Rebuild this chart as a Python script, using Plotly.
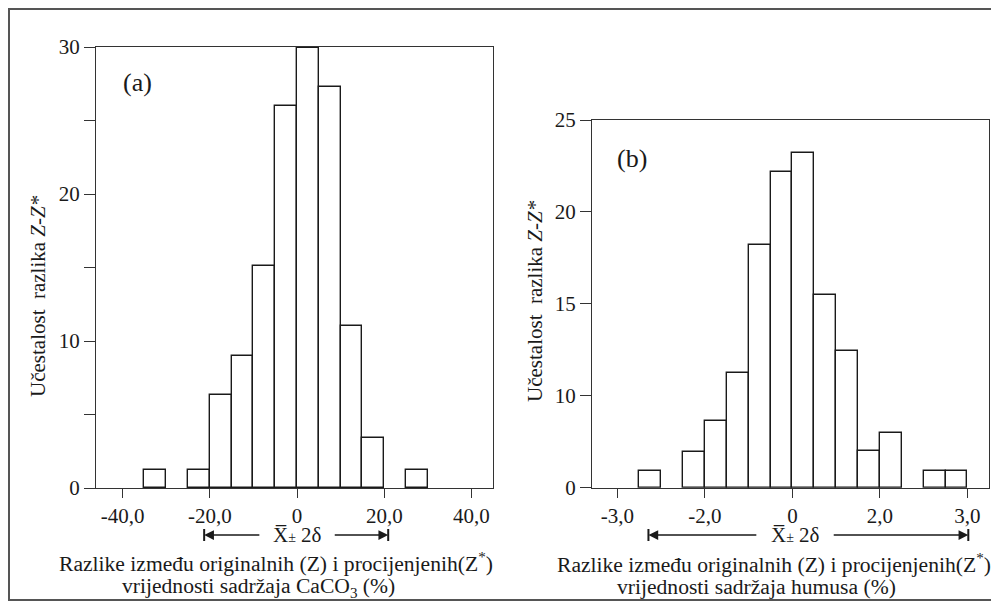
import plotly.graph_objects as go

# ---- data (a): CaCO3 differences, bin width 5 ----
a_bin_centers = [-32.5, -22.5, -17.5, -12.5, -7.5, -2.5, 2.5, 7.5, 12.5, 17.5, 27.5]
a_counts = [1.2, 1.2, 6.3, 9.0, 15.1, 26.0, 29.95, 27.3, 11.0, 3.4, 1.2]
a_bin_width = 5
a_xticks = [-40, -20, 0, 20, 40]
a_xticktext = ["-40,0", "-20,0", "0", "20,0", "40,0"]
a_yticks = [0, 5, 10, 15, 20, 25, 30]
a_yticktext = ["0", " ", "10", " ", "20", " ", "30"]
a_interval = [-21.3, 20.9]

# ---- data (b): humus differences, bin width 0.5 ----
b_bin_centers = [-3.25, -2.25, -1.75, -1.25, -0.75, -0.25, 0.25, 0.75, 1.25, 1.75, 2.25, 3.25, 3.75]
b_counts = [5.92, 6.94, 8.64, 11.26, 18.22, 22.16, 23.22, 15.48, 12.43, 7.01, 7.96, 5.92, 5.92]
b_bin_width = 0.5
b_xticks = [-4, -2, 0, 2, 4]
b_xticktext = ["-3,0", "-2,0", "0", "2,0", "3,0"]
b_yticks = [5, 10, 15, 20, 25]
b_yticktext = ["0", "10", "15", "20", "25"]
b_base = 5
b_interval = [-3.29, 4.02]

W, H = 999, 601
OFF = 8  # page body margin: the figure is drawn 8 px right and down
FONT = "Liberation Serif"
INK = "#1a1a1a"


def px(x):
    return (x - OFF) / W


def py(y):
    return 1 - (y - OFF) / H


fig = go.Figure()
fig.add_trace(go.Bar(x=a_bin_centers, y=a_counts, width=a_bin_width,
                     marker=dict(color="white", line=dict(color=INK, width=1.4)),
                     xaxis="x", yaxis="y", showlegend=False))
fig.add_trace(go.Bar(x=b_bin_centers, y=[v - b_base for v in b_counts], base=b_base,
                     width=b_bin_width,
                     marker=dict(color="white", line=dict(color=INK, width=1.4)),
                     xaxis="x2", yaxis="y2", showlegend=False))

axis_common = dict(showline=True, linecolor="#333333", linewidth=1.3, mirror=True,
                   ticks="outside", tickcolor="#333333", tickwidth=1.3,
                   showgrid=False, zeroline=False, tickmode="array", automargin=False,
                   tickfont=dict(family=FONT, size=21, color=INK))

fig.update_layout(
    width=W, height=H, margin=dict(l=0, r=0, t=0, b=0, pad=0, autoexpand=False),
    paper_bgcolor="white", plot_bgcolor="white", bargap=0, showlegend=False,
    font=dict(family=FONT, color=INK),
    xaxis=dict(domain=[px(96), px(493.3)], range=[-46.1, 45.0], anchor="y",
               tickvals=a_xticks, ticktext=a_xticktext, ticklen=9, **axis_common),
    yaxis=dict(domain=[py(488), py(47)], range=[0, 30], anchor="x",
               tickvals=a_yticks, ticktext=a_yticktext, ticklen=11, **axis_common),
    xaxis2=dict(domain=[px(592), px(989.3)], range=[-4.58, 4.50], anchor="y2",
                tickvals=b_xticks, ticktext=b_xticktext, ticklen=9, **axis_common),
    yaxis2=dict(domain=[py(487.7), py(120)], range=[5, 25], anchor="x2",
                tickvals=b_yticks, ticktext=b_yticktext, ticklen=11, **axis_common),
)

ann = []
shapes = []
tf = dict(family=FONT, size=21, color=INK)
xf = dict(family=FONT, size=21.6, color=INK)


def note(text, x, y, font, **kw):
    d = dict(text=text, x=px(x), y=py(y), xref="paper", yref="paper",
             xanchor="center", yanchor="middle", showarrow=False, font=font)
    d.update(kw)
    ann.append(d)


# panel letters
note("(a)", 137, 82, dict(family=FONT, size=26, color=INK))
note("(b)", 632, 158, dict(family=FONT, size=26, color=INK))

# y titles
ytitle = "Učestalost&nbsp; razlika <i>Z-Z*</i>"
note(ytitle, 38, 296, tf, textangle=-90)
note(ytitle, 535, 301, tf, textangle=-90)

# x titles
line1 = "Razlike između originalnih (Z) i procijenjenih(Z<sup>*</sup>)"
note(line1, 276, 562, xf)
note("vrijednosti sadržaja CaCO<sub>3</sub> (%)", 258, 587, xf)
note(line1, 774, 563, xf)
note("vrijednosti sadržaja humusa (%)", 756, 587, xf)

# mean +/- 2 sigma interval arrows
ya = py(535)
half_gap = {"x": 8.3, "x2": 0.85}
centers = {"x": 0.0, "x2": 0.06}
for xr, (lo, hi) in (("x", a_interval), ("x2", b_interval)):
    c = centers[xr]
    g = half_gap[xr]
    ann.append(dict(text="X̅<span style='font-size:14px'>±</span> 2δ", x=c, y=ya,
                    xref=xr, yref="paper", xanchor="center", yanchor="middle",
                    showarrow=False, font=tf))
    for tip, start in ((lo, c - g), (hi, c + g)):
        ann.append(dict(text="", x=tip, y=ya, xref=xr, yref="paper", ax=start, ay=0,
                        axref=xr, ayref="pixel", showarrow=True, arrowhead=2,
                        arrowsize=1.3, arrowwidth=1.5, arrowcolor=INK))
        shapes.append(dict(type="line", xref=xr, yref="paper", x0=tip, x1=tip,
                           y0=ya - 6 / H, y1=ya + 6 / H,
                           line=dict(color=INK, width=2)))

# outer frame
frame = dict(color="#555555", width=2)
shapes.append(dict(type="line", xref="paper", yref="paper", x0=px(8), x1=1,
                   y0=1 - 1 / H, y1=1 - 1 / H, line=frame))
shapes.append(dict(type="line", xref="paper", yref="paper", x0=px(9), x1=px(9),
                   y0=1, y1=py(600), line=frame))
shapes.append(dict(type="line", xref="paper", yref="paper", x0=px(8), x1=1,
                   y0=py(600), y1=py(600), line=frame))

fig.update_layout(annotations=ann, shapes=shapes)
fig.write_html("out.html")
